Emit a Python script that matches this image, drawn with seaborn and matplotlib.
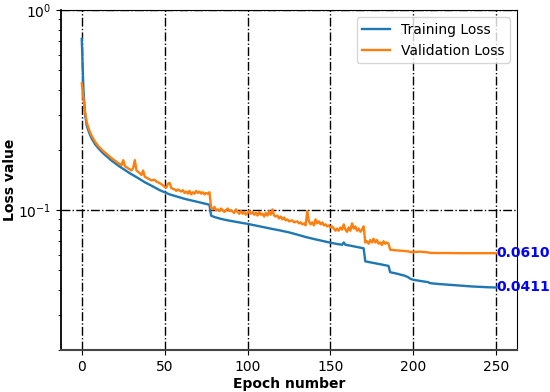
import matplotlib
matplotlib.use("Agg")
import matplotlib.pyplot as plt
import seaborn as sns
import pandas as pd

train_epochs = [0, 1, 2, 3, 4, 5, 6, 8, 10, 12, 14, 16, 18, 20, 23, 26, 29, 32, 35, 38, 41, 44, 47, 50,
                53, 56, 59, 62, 65, 68, 71, 74, 77, 78, 80, 84, 88, 92, 96, 100, 105, 110, 115, 120,
                125, 130, 135, 140, 145, 150, 154, 157, 158, 159, 162, 166, 170, 171, 175, 180, 185,
                186, 190, 195, 197, 198, 200, 205, 209, 210, 215, 220, 225, 230, 235, 240, 245, 250]
train_loss = [0.72, 0.40, 0.30, 0.265, 0.25, 0.238, 0.228, 0.214, 0.204, 0.196, 0.189, 0.183, 0.177,
              0.172, 0.165, 0.159, 0.153, 0.148, 0.143, 0.138, 0.134, 0.130, 0.126, 0.123,
              0.120, 0.118, 0.116, 0.114, 0.1125, 0.111, 0.1095, 0.108, 0.1065, 0.094, 0.0925,
              0.0905, 0.089, 0.0878, 0.0866, 0.0855, 0.0838, 0.0822, 0.0806, 0.0791,
              0.0775, 0.0755, 0.0735, 0.0718, 0.0703, 0.0688, 0.0678, 0.0672, 0.0690, 0.0672,
              0.0665, 0.0655, 0.0645, 0.0555, 0.0547, 0.0537, 0.0527,
              0.0490, 0.0482, 0.0470, 0.0462, 0.0455, 0.0449, 0.0442, 0.0437, 0.0432, 0.0428,
              0.0425, 0.0422, 0.0419, 0.0416, 0.0414, 0.0412, 0.0411]

val_epochs = [0, 1, 2, 3, 4, 5, 6, 8, 10, 12, 14, 16, 18, 20, 22, 24, 25, 26, 28, 30, 31, 32, 33, 35,
              36, 37, 38, 40, 42, 44, 45, 46, 48, 49, 50, 51, 52, 53, 54, 56, 57, 58, 60, 61, 62,
              63, 64, 65, 66, 67, 68, 69, 70, 71, 72, 73, 74, 75, 76, 77, 78, 79, 80, 81, 82, 83,
              84, 85, 86, 87, 88, 89, 90, 92, 93, 94, 95, 96, 97, 98, 99, 100, 101, 102, 103, 104,
              105, 106, 107, 108, 109, 110, 111, 112, 113, 114, 115, 116, 117, 118, 119, 120, 121,
              122, 123, 124, 125, 127, 128, 130, 131, 132, 133, 134, 135, 136, 137, 138, 139, 140,
              141, 142, 143, 144, 145, 146, 147, 148, 149, 150, 151, 152, 153, 154, 155, 156, 157,
              158, 159, 160, 161, 162, 163, 164, 165, 166, 167, 168, 169, 170, 171, 172, 173, 174,
              175, 176, 177, 178, 179, 180, 181, 182, 183, 184, 185, 186, 188, 190, 192, 194, 196,
              198, 199, 200, 202, 204, 206, 208, 210, 215, 220, 230, 240, 250]
val_loss = [0.43, 0.36, 0.31, 0.275, 0.258, 0.245, 0.235, 0.220, 0.209, 0.201, 0.194, 0.188, 0.182,
            0.177, 0.172, 0.168, 0.178, 0.166, 0.162, 0.158, 0.163, 0.178, 0.158, 0.153,
            0.150, 0.158, 0.147, 0.144, 0.141, 0.142, 0.139, 0.138, 0.135, 0.133, 0.131, 0.130,
            0.136, 0.137, 0.129, 0.127, 0.125, 0.127, 0.124, 0.126, 0.122,
            0.124, 0.121, 0.125, 0.120, 0.123, 0.121, 0.125, 0.122, 0.124, 0.121, 0.123, 0.120,
            0.122, 0.121, 0.123, 0.103, 0.101, 0.104, 0.100, 0.101, 0.099,
            0.102, 0.100, 0.098, 0.100, 0.102, 0.099, 0.100, 0.097, 0.101, 0.098, 0.096, 0.099,
            0.096, 0.098, 0.095, 0.097, 0.099, 0.096, 0.098, 0.095,
            0.097, 0.094, 0.098, 0.095, 0.096, 0.093, 0.097, 0.094, 0.099, 0.095, 0.101, 0.094,
            0.093, 0.094, 0.091, 0.093, 0.090,
            0.092, 0.089, 0.090, 0.088, 0.089, 0.087, 0.088, 0.086, 0.087, 0.085, 0.086, 0.084,
            0.099, 0.088, 0.085, 0.087, 0.084,
            0.090, 0.086, 0.088, 0.085, 0.087, 0.084, 0.085, 0.083, 0.084, 0.082, 0.083, 0.081,
            0.079, 0.081, 0.079, 0.082, 0.080,
            0.085, 0.080, 0.078, 0.082, 0.079, 0.086, 0.081, 0.083, 0.079, 0.081, 0.078, 0.080,
            0.083, 0.069, 0.070, 0.068, 0.071,
            0.069, 0.072, 0.069, 0.071, 0.068, 0.069, 0.067, 0.070, 0.068, 0.069, 0.068, 0.0635,
            0.0632, 0.0630, 0.0628, 0.0626, 0.0624,
            0.0620, 0.0616, 0.0620, 0.0619, 0.0621, 0.0618, 0.0617, 0.0612, 0.0611, 0.0611,
            0.0610, 0.0610, 0.0610]

series_names = ["Training Loss", "Validation Loss"]
final_labels = ["0.0411", "0.0610"]
x_ticks = [0, 50, 100, 150, 200, 250]

df = pd.concat([
    pd.DataFrame({"epoch": train_epochs, "loss": train_loss, "series": series_names[0]}),
    pd.DataFrame({"epoch": val_epochs, "loss": val_loss, "series": series_names[1]}),
])

fig = plt.figure(figsize=(5.5, 3.92), dpi=100)
ax = fig.add_axes([0.111, 0.107, 0.829, 0.867])
sns.lineplot(data=df, x="epoch", y="loss", hue="series", ax=ax,
             palette=["#1f77b4", "#ff7f0e"], linewidth=1.7, estimator=None, sort=False)
ax.set_yscale("log")
ax.set_ylim(0.02, 1.0)
ax.set_xlim(-12.5, 262.5)
ax.set_xticks(x_ticks)
ax.grid(True, which="major", color="black", linestyle="-.", linewidth=1.0)
ax.set_xlabel("Epoch number", fontweight="bold", fontsize=10, labelpad=2)
ax.set_ylabel("Loss value", fontweight="bold", fontsize=10, labelpad=1)
ax.tick_params(labelsize=10)
ax.spines["bottom"].set_color("#444444")
ax.spines["bottom"].set_linewidth(1.5)
ax.spines["left"].set_linewidth(1.3)

ax.text(train_epochs[-1], train_loss[-1], final_labels[0], color="blue", fontweight="bold",
        fontsize=10, va="center", ha="left")
ax.text(val_epochs[-1], val_loss[-1], final_labels[1], color="blue", fontweight="bold",
        fontsize=10, va="center", ha="left")

leg = ax.legend(loc="upper right", fontsize=10)
leg.set_title(None)

fig.savefig("out.png", dpi=100)
